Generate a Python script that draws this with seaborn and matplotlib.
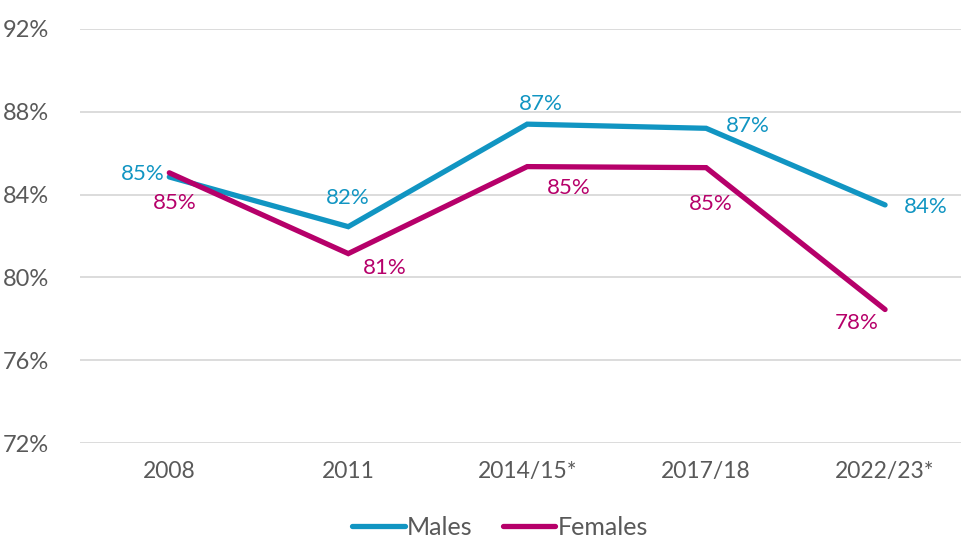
import matplotlib
matplotlib.use("Agg")
import matplotlib.pyplot as plt
import seaborn as sns
import pandas as pd

# --- Data ---
years = ["2008", "2011", "2014/15*", "2017/18", "2022/23*"]
males = [84.85, 82.45, 87.4, 87.2, 83.5]
females = [85.05, 81.15, 85.35, 85.3, 78.45]
male_labels = ["85%", "82%", "87%", "87%", "84%"]
female_labels = ["85%", "81%", "85%", "85%", "78%"]

MALE_C = "#1195C2"
FEMALE_C = "#B6006A"
GREY = "#595959"

sns.set_theme(style="white")
plt.rcParams["font.family"] = ["Lato", "DejaVu Sans"]

df = pd.DataFrame({
    "year": years * 2,
    "value": males + females,
    "group": ["Males"] * len(years) + ["Females"] * len(years),
})

fig = plt.figure(figsize=(9.62, 5.45), dpi=100)
ax = fig.add_axes([0.083, 0.187, 0.917, 0.76])

sns.lineplot(data=df, x="year", y="value", hue="group", sort=False,
             palette={"Males": MALE_C, "Females": FEMALE_C},
             linewidth=3.8, ax=ax, legend=False)
for ln in ax.lines:
    ln.set_solid_capstyle("round")
    ln.set_solid_joinstyle("miter")

ax.set_ylim(72, 92)
ax.set_yticks([72, 76, 80, 84, 88, 92])
ax.set_yticklabels([f"{t}%" for t in [72, 76, 80, 84, 88, 92]])
ax.set_xlim(-0.5, 4.43)
ax.set_xlabel("")
ax.set_ylabel("")
ax.yaxis.grid(True, color="#D9D9D9", linewidth=1.3)
ax.set_axisbelow(True)
for s in ax.spines.values():
    s.set_visible(False)
ax.tick_params(axis="y", labelsize=17, colors=GREY, length=0, pad=22)
ax.tick_params(axis="x", labelsize=16.5, colors=GREY, length=0, pad=13)

# data labels (pixel offsets from each point)
male_off = [(-27, 3), (0, 29), (14, 20), (42, 2), (41, -2)]
female_off = [(5, -30), (37, -14), (42, -21), (5, -36), (-28, -13)]
for i in range(len(years)):
    ax.annotate(male_labels[i], (i, males[i]), xytext=male_off[i], textcoords="offset pixels",
                ha="center", va="center", color=MALE_C, fontsize=16)
    ax.annotate(female_labels[i], (i, females[i]), xytext=female_off[i], textcoords="offset pixels",
                ha="center", va="center", color=FEMALE_C, fontsize=16)

handles = [plt.Line2D([], [], color=MALE_C, linewidth=3.8, solid_capstyle="round"),
           plt.Line2D([], [], color=FEMALE_C, linewidth=3.8, solid_capstyle="round")]
leg = fig.legend(handles, ["Males", "Females"], loc="lower center", bbox_to_anchor=(0.52, -0.03),
                 ncol=2, frameon=False, fontsize=18, handlelength=2.1, handletextpad=0.1,
                 columnspacing=1.2)
for t in leg.get_texts():
    t.set_color(GREY)

plt.savefig("out.png", dpi=100, facecolor="white")
plt.close()
